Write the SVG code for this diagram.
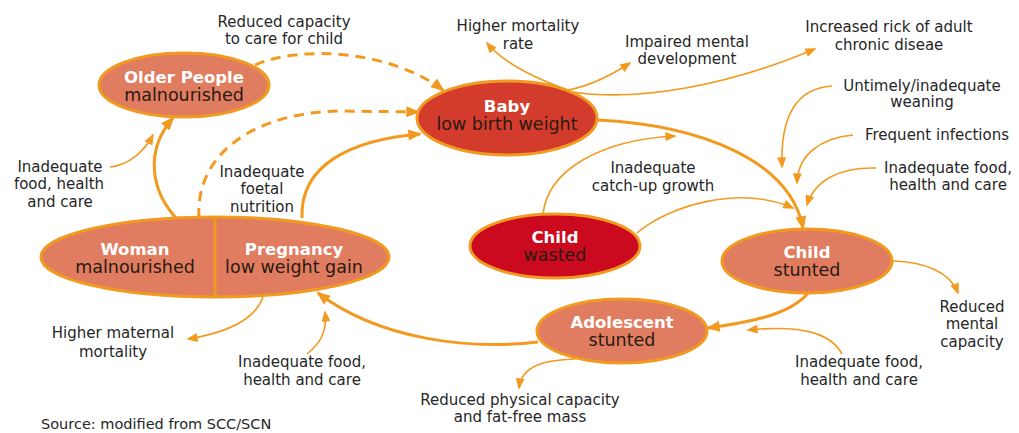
<svg xmlns="http://www.w3.org/2000/svg" width="1019" height="433" viewBox="0 0 1019 433">
<style>
.bg{fill:#fff}
.node{stroke:#F29A1F;stroke-width:3}
.salmon{fill:#E07D60}
.baby{fill:#D33C2C}
.wasted{fill:#CB0A1F}
.t1{font-family:"DejaVu Sans",Verdana,sans-serif;font-weight:bold;font-size:16.5px;fill:#FFFFFF;text-anchor:middle}
.t2{font-family:"DejaVu Sans",Verdana,sans-serif;font-size:17.5px;fill:#2A1A12;text-anchor:middle}
.lbl{font-family:"DejaVu Sans",Verdana,sans-serif;font-size:15px;fill:#262626;text-anchor:middle}
.src{font-family:"DejaVu Sans",Verdana,sans-serif;font-size:14.5px;fill:#262626}
.thick{fill:none;stroke:#F29A1F;stroke-width:3;marker-end:url(#ah)}
.dash{fill:none;stroke:#F29A1F;stroke-width:3;stroke-dasharray:10 7;marker-end:url(#ah)}
.thin{fill:none;stroke:#F29A1F;stroke-width:1.6;marker-end:url(#as)}
</style>
<defs>
<marker id="ah" viewBox="0 0 10 8" refX="8.5" refY="4" markerWidth="15" markerHeight="11" markerUnits="userSpaceOnUse" orient="auto">
<path d="M0,0 L10,4 L0,8 Z" fill="#F29A1F"/>
</marker>
<marker id="as" viewBox="0 0 10 8" refX="8.5" refY="4" markerWidth="12" markerHeight="9" markerUnits="userSpaceOnUse" orient="auto">
<path d="M0,0 L10,4 L0,8 Z" fill="#F29A1F"/>
</marker>
</defs>
<rect class="bg" x="0" y="0" width="1019" height="433"/>

<g id="connectors">
<path class="dash" d="M255,65 C300,45 390,50 443,90"/>
<path class="dash" d="M199,218 C195,150 260,112 340,111 L418,112"/>
<path class="thick" d="M177,219 C150,190 145,150 173,118"/>
<path class="thick" d="M302,218 C300,165 350,140 420,134"/>
<path class="thin" d="M110,167 C130,165 145,150 153,135"/>
<path class="thin" d="M568,90 C540,80 505,65 487,43"/>
<path class="thin" d="M568,90 C590,86 610,76 630,63"/>
<path class="thin" d="M572,92 C640,102 730,85 815,49"/>
<path class="thick" d="M597,120 C700,125 790,160 803,228"/>
<path class="thin" d="M832,86 C800,88 780,110 782,167"/>
<path class="thin" d="M853,135 C820,138 798,155 797,183"/>
<path class="thin" d="M876,168 C840,167 815,180 807,205"/>
<path class="thin" d="M543,214 C548,170 600,140 675,136"/>
<path class="thin" d="M637,233 C670,205 740,185 793,208"/>
<path class="thin" d="M893,261 C925,262 950,272 958,293"/>
<path class="thick" d="M808,293 C790,315 750,322 708,328"/>
<path class="thin" d="M842,354 C830,332 800,325 748,330"/>
<path class="thin" d="M575,359 C545,360 522,365 519,388"/>
<path class="thick" d="M538,342 C470,350 380,340 318,293"/>
<path class="thin" d="M263,297 C255,320 225,333 188,339"/>
<path class="thin" d="M307,354 C322,342 327,330 325,312"/>
</g>

<g id="node-older-people">
<ellipse class="node salmon" cx="184" cy="85" rx="85" ry="32"/>
<text class="t1" x="184" y="83">Older People</text>
<text class="t2" x="184" y="101">malnourished</text>
</g>
<g id="node-baby">
<ellipse class="node baby" cx="507" cy="118" rx="90" ry="37"/>
<text class="t1" x="507" y="112">Baby</text>
<text class="t2" x="507" y="130">low birth weight</text>
</g>
<g id="node-woman-pregnancy">
<ellipse class="node salmon" cx="215" cy="257" rx="174" ry="40"/>
<line x1="215" y1="217" x2="215" y2="297" stroke="#F29A1F" stroke-width="3"/>
<text class="t1" x="135" y="255">Woman</text>
<text class="t2" x="135" y="273">malnourished</text>
<text class="t1" x="294" y="255">Pregnancy</text>
<text class="t2" x="294" y="273">low weight gain</text>
</g>
<g id="node-child-wasted">
<ellipse class="node wasted" cx="555" cy="246" rx="85" ry="32"/>
<text class="t1" x="555" y="243">Child</text>
<text class="t2" x="555" y="261">wasted</text>
</g>
<g id="node-child-stunted">
<ellipse class="node salmon" cx="807" cy="261" rx="85" ry="32"/>
<text class="t1" x="807" y="258">Child</text>
<text class="t2" x="807" y="276">stunted</text>
</g>
<g id="node-adolescent">
<ellipse class="node salmon" cx="622" cy="331" rx="85" ry="32"/>
<text class="t1" x="622" y="328">Adolescent</text>
<text class="t2" x="622" y="346">stunted</text>
</g>

<g id="labels">
<text class="lbl" x="284" y="27">Reduced capacity</text>
<text class="lbl" x="284" y="44">to care for child</text>
<text class="lbl" x="518" y="31">Higher mortality</text>
<text class="lbl" x="518" y="49">rate</text>
<text class="lbl" x="687" y="47">Impaired mental</text>
<text class="lbl" x="687" y="64">development</text>
<text class="lbl" x="889" y="32">Increased rick of adult</text>
<text class="lbl" x="889" y="50">chronic diseae</text>
<text class="lbl" x="922" y="91">Untimely/inadequate</text>
<text class="lbl" x="922" y="107">weaning</text>
<text class="lbl" x="937" y="140">Frequent infections</text>
<text class="lbl" x="948" y="173">Inadequate food,</text>
<text class="lbl" x="948" y="190">health and care</text>
<text class="lbl" x="653" y="173">Inadequate</text>
<text class="lbl" x="653" y="191">catch-up growth</text>
<text class="lbl" x="60" y="172">Inadequate</text>
<text class="lbl" x="59" y="189">food, health</text>
<text class="lbl" x="60" y="207">and care</text>
<text class="lbl" x="262" y="177">Inadequate</text>
<text class="lbl" x="262" y="194">foetal</text>
<text class="lbl" x="262" y="212">nutrition</text>
<text class="lbl" x="113" y="338">Higher maternal</text>
<text class="lbl" x="113" y="357">mortality</text>
<text class="lbl" x="302" y="367">Inadequate food,</text>
<text class="lbl" x="302" y="385">health and care</text>
<text class="lbl" x="520" y="405">Reduced physical capacity</text>
<text class="lbl" x="520" y="422">and fat-free mass</text>
<text class="lbl" x="859" y="367">Inadequate food,</text>
<text class="lbl" x="859" y="385">health and care</text>
<text class="lbl" x="972" y="312">Reduced</text>
<text class="lbl" x="972" y="329">mental</text>
<text class="lbl" x="972" y="347">capacity</text>
<text class="src" x="41" y="429">Source: modified from SCC/SCN</text>
</g>
</svg>
